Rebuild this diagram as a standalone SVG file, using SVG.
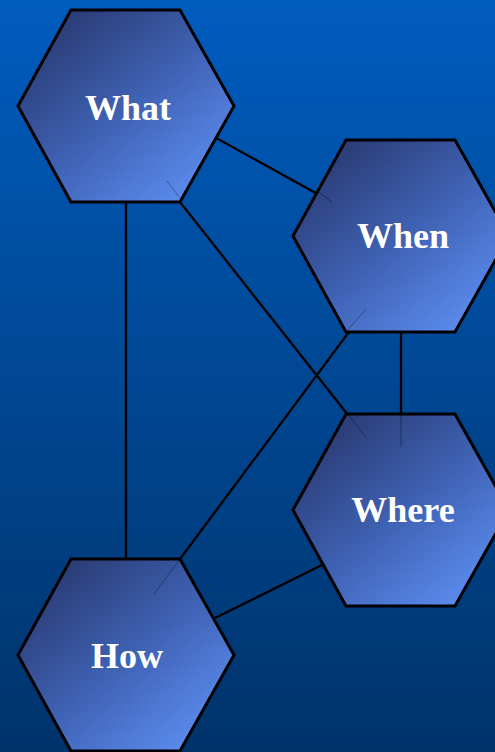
<svg xmlns="http://www.w3.org/2000/svg" width="495" height="752" viewBox="0 0 495 752">
  <defs>
    <linearGradient id="bg" x1="0" y1="0" x2="0" y2="1">
      <stop offset="0" stop-color="#005cbe"/>
      <stop offset="1" stop-color="#00336a"/>
    </linearGradient>
    <linearGradient id="hexfill" x1="0.1" y1="0.1" x2="0.9" y2="0.95">
      <stop offset="0" stop-color="#2a3a72"/>
      <stop offset="0.5" stop-color="#3f62b4"/>
      <stop offset="1" stop-color="#5e90f4"/>
    </linearGradient>
    <polygon id="hex" points="-55,-96 54,-96 108,0 54,96 -55,96 -108,0"/>
  </defs>
  <style>
    .hex { fill: url(#hexfill); stroke: #000; stroke-width: 3; stroke-linejoin: miter; }
    .lbl { font-family: "Liberation Serif", "Times New Roman", serif; font-weight: bold; font-size: 36px; fill: #ffffff; text-anchor: middle; }
    .conn line { stroke: #000; stroke-width: 2.3; }
    .faint line { stroke: #000; stroke-width: 1; stroke-opacity: 0.35; }
  </style>
  <rect width="495" height="752" fill="url(#bg)"/>
  <g id="connectors" class="conn">
    <line x1="200" y1="129" x2="332" y2="202"/>
    <line x1="126" y1="106" x2="126" y2="655"/>
    <line x1="180" y1="202" x2="367" y2="439"/>
    <line x1="366" y1="309" x2="154" y2="594"/>
    <line x1="401" y1="236" x2="401" y2="447"/>
    <line x1="322" y1="565" x2="215" y2="618"/>
  </g>
  <g id="what">
    <use href="#hex" x="126" y="106" class="hex"/>
    <text class="lbl" x="128" y="120">What</text>
  </g>
  <g id="when">
    <use href="#hex" x="401" y="236" class="hex"/>
    <text class="lbl" x="403" y="248">When</text>
  </g>
  <g id="where">
    <use href="#hex" x="401" y="510" class="hex"/>
    <text class="lbl" x="403" y="522">Where</text>
  </g>
  <g id="how">
    <use href="#hex" x="126" y="655" class="hex"/>
    <text class="lbl" x="127" y="668">How</text>
  </g>
  <g class="faint">
    <line x1="167" y1="181" x2="180" y2="198"/>
    <line x1="316" y1="190" x2="332" y2="202"/>
    <line x1="346" y1="332" x2="366" y2="309"/>
    <line x1="347" y1="413" x2="367" y2="439"/>
    <line x1="401" y1="413" x2="401" y2="447"/>
    <line x1="180" y1="559" x2="154" y2="594"/>
  </g>
</svg>
